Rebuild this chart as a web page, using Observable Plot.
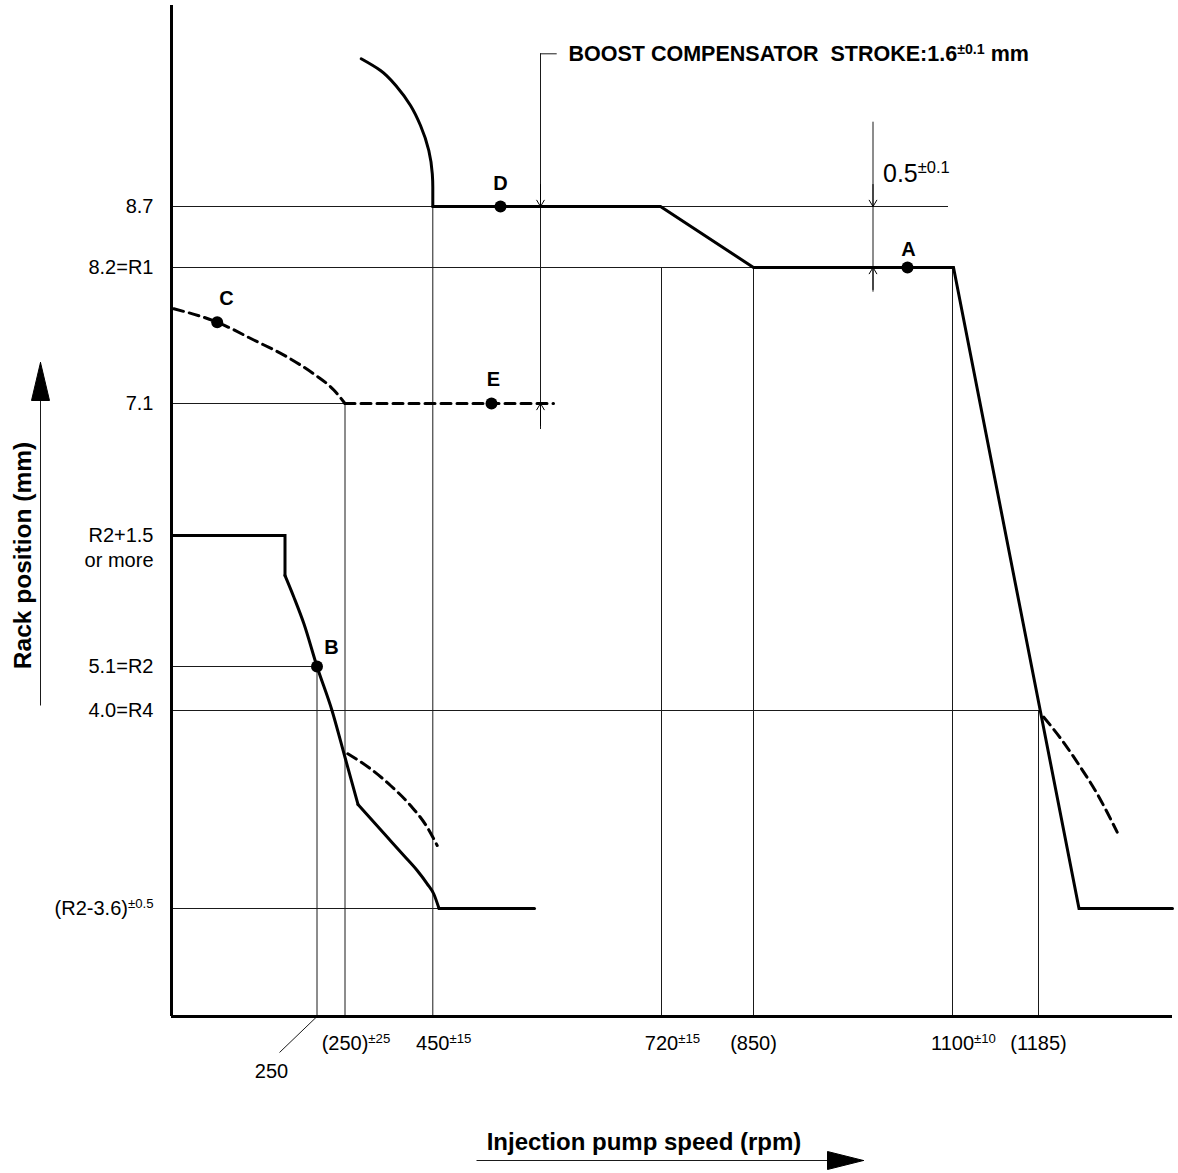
<!DOCTYPE html>
<html>
<head>
<meta charset="utf-8">
<script src="https://cdn.jsdelivr.net/npm/d3@7"></script>
<script src="https://cdn.jsdelivr.net/npm/@observablehq/plot@0.6"></script>
<style>body{margin:0;background:#fff}</style>
</head>
<body>
<div id="chart"></div>
<script>
// ---- Schematic diagram: values are diagram units ----
// Speed axis reference positions and labels ("^" marks a superscript tolerance)
const speedTicks = [
  {x: 173.5, label: "(250)^±25"},
  {x: 261.3, label: "450^±15"},
  {x: 490, label: "720^±15"},
  {x: 582, label: "(850)"},
  {x: 781, label: "1100^±10"},
  {x: 867, label: "(1185)"}
];
const idleSpeed = {x: 145.5, label: "250", lx: 100, ly: -55, ex: 108, ey: -36};

// Rack axis reference positions and labels
const rackTicks = [
  {y: 810, label: "8.7"},
  {y: 749, label: "8.2=R1"},
  {y: 613, label: "7.1"},
  {y: 481, label: "R2+1.5"},
  {y: 350, label: "5.1=R2"},
  {y: 306, label: "4.0=R4"},
  {y: 108, label: "(R2-3.6)^±0.5"}
];
const rackSubLabels = [{y: 456, label: "or more"}];

// Thin reference lines
const hRefs = [
  {y: 810, x2: 777}, {y: 749, x2: 781}, {y: 613, x2: 173.5},
  {y: 350, x2: 145.5}, {y: 306, x2: 867}, {y: 108, x2: 268}
];
const vRefs = [
  {x: 145.5, y2: 350}, {x: 173.5, y2: 613}, {x: 261.3, y2: 810}, {x: 490, y2: 749},
  {x: 582, y2: 749}, {x: 781, y2: 749}, {x: 867, y2: 306}
];

// Characteristic curves
const fullLoadArc   = [[189.7,957.7],[209,946],[225.7,929.3],[239,911],[249,891],[257.3,866],[260.8,842.7],[261.3,829],[261.3,810]];
const fullLoadLine  = [[261.3,810],[489,810],[582,749],[782,749],[907.5,108],[1001,108]];
const idleStep      = [[0,481],[113.5,481],[113.5,441]];
const idleCurve     = [[113.5,441],[122.3,419.5],[132.5,392.5],[145.5,350],[160.5,306],[173,261],[186.5,212]];
const idleTail      = [[186.5,212],[215.7,179.5],[232.3,161],[245.7,146],[255.7,132.7],[262.3,122.5],[267.5,108]];
const idleFlat      = [[267.5,108],[363,108]];
const boostCurve    = [[2.3,707.7],[45.7,694.3],[82.3,676.5],[115.7,659.5],[142.3,642.5],[162.3,626.5],[173.5,613]];
const boostFlat     = [[173.5,613],[382,613]];
const lowDashed     = [[176.3,262.7],[199,247.7],[219,231],[239,211],[255.7,189.3],[265.7,171]];
const highDashed    = [[872.3,299.3],[890.7,276],[909,249.3],[925.7,222.7],[945.7,184.3]];

// Measuring points
const points = [
  {id: "A", x: 736, y: 749, lx: 737, ly: 767},
  {id: "B", x: 145.5, y: 350, lx: 160, ly: 369},
  {id: "C", x: 45.7, y: 694.3, lx: 55, ly: 718},
  {id: "D", x: 329, y: 810, lx: 329, ly: 833},
  {id: "E", x: 320, y: 613, lx: 322, ly: 637}
];

// Dimension annotations
const boostDim = {x: 369, top: 962.7, bottom: 587, upper: 810, lower: 613, tickEnd: 385.7};
const gapDim   = {x: 701.5, top: 894.3, bottom: 724.3, upper: 810, lower: 749};
const boldNotes = [{x: 397, y: 962, text: "BOOST COMPENSATOR\u00a0\u00a0STROKE:1.6^±0.1^\u00a0mm"}];
const plainNotes = [{x: 711.5, y: 843, text: "0.5^±0.1"}];

// Axis titles with their arrows
const xTitle = {x: 472.5, y: -125.5, text: "Injection pump speed (rpm)", ax1: 305, ax2: 692, ay: -144};
const yTitle = {x: -148, y: 461, text: "Rack position (mm)", ax: -131, ay1: 311, ay2: 654};
const axisEnds = {x: 1001, y: 1011};

// ---- helpers ----
function headTriangle(tipX, tipY, dirX, dirY, len, half) {
  const bx = tipX - dirX * len, by = tipY - dirY * len;
  const px = -dirY, py = dirX;
  return [[tipX, tipY], [bx + px * half, by + py * half], [bx - px * half, by - py * half], [tipX, tipY]];
}
const arrowHeads = [
  headTriangle(xTitle.ax2, xTitle.ay, 1, 0, 36, 9),
  headTriangle(yTitle.ax, yTitle.ay2, 0, 1, 38, 9)
];

const thin = {stroke: "#1a1a1a", strokeWidth: 1};
const thick = {stroke: "#000", strokeWidth: 3, strokeLinejoin: "miter", strokeMiterlimit: 10};
const dashed = {stroke: "#000", strokeWidth: 3, strokeDasharray: "10,6"};
const dimArrow = {stroke: "#000", strokeWidth: 1, headLength: 13, headAngle: 62};

const marks = [
  // reference lines
  Plot.ruleY(hRefs, {y: "y", x1: 0, x2: "x2", ...thin}),
  Plot.ruleX(vRefs, {x: "x", y1: 0, y2: "y2", ...thin}),
  Plot.link([idleSpeed], {x1: "x", y1: 0, x2: "ex", y2: "ey", ...thin}),
  // dimension lines
  Plot.ruleX([boostDim], {x: "x", y1: "bottom", y2: "top", ...thin}),
  Plot.ruleY([boostDim], {y: "top", x1: "x", x2: "tickEnd", ...thin}),
  Plot.arrow([boostDim], {x1: "x", x2: "x", y1: d => d.upper + 22, y2: "upper", ...dimArrow}),
  Plot.arrow([boostDim], {x1: "x", x2: "x", y1: d => d.lower - 22, y2: "lower", ...dimArrow}),
  Plot.ruleX([gapDim], {x: "x", y1: "bottom", y2: "top", ...thin}),
  Plot.arrow([gapDim], {x1: "x", x2: "x", y1: d => d.upper + 22, y2: "upper", ...dimArrow}),
  Plot.arrow([gapDim], {x1: "x", x2: "x", y1: d => d.lower - 22, y2: "lower", ...dimArrow}),
  // axes
  Plot.ruleX([0], {x: 0, y1: 0, y2: axisEnds.y, stroke: "#000", strokeWidth: 3}),
  Plot.ruleY([0], {y: 0, x1: 0, x2: axisEnds.x, stroke: "#000", strokeWidth: 3}),
  // curves
  Plot.line(fullLoadArc, {curve: "monotone-y", ...thick}),
  Plot.line(fullLoadLine, {curve: "linear", ...thick}),
  Plot.line(idleStep, {curve: "linear", ...thick}),
  Plot.line(idleCurve, {curve: "monotone-x", ...thick}),
  Plot.line(idleTail, {curve: "monotone-x", ...thick}),
  Plot.line(idleFlat, {curve: "linear", ...thick}),
  Plot.line(boostCurve, {curve: "monotone-x", ...dashed}),
  Plot.line(boostFlat, {curve: "linear", ...dashed}),
  Plot.line(lowDashed, {curve: "monotone-x", ...dashed}),
  Plot.line(highDashed, {curve: "monotone-x", ...dashed}),
  // points
  Plot.dot(points, {x: "x", y: "y", r: 6, fill: "#000", stroke: null}),
  Plot.text(points, {x: "lx", y: "ly", text: "id", fontSize: 20, fontWeight: "bold"}),
  // tick labels
  Plot.text(rackTicks, {x: -18, y: "y", text: "label", textAnchor: "end", fontSize: 20}),
  Plot.text(rackSubLabels, {x: -18, y: "y", text: "label", textAnchor: "end", fontSize: 20}),
  Plot.text(speedTicks, {x: "x", y: -27, text: "label", fontSize: 20}),
  Plot.text([idleSpeed], {x: "lx", y: "ly", text: "label", fontSize: 20}),
  // notes
  Plot.text(boldNotes, {x: "x", y: "y", text: "text", textAnchor: "start", fontSize: 21.5, fontWeight: "bold"}),
  Plot.text(plainNotes, {x: "x", y: "y", text: "text", textAnchor: "start", fontSize: 25}),
  // axis titles
  Plot.text([xTitle], {x: "x", y: "y", text: "text", fontSize: 24, fontWeight: "bold"}),
  Plot.text([yTitle], {x: "x", y: "y", text: "text", fontSize: 24.5, fontWeight: "bold", rotate: -90}),
  Plot.link([xTitle], {x1: "ax1", x2: "ax2", y1: "ay", y2: "ay", ...thin}),
  Plot.link([yTitle], {x1: "ax", x2: "ax", y1: "ay1", y2: "ay2", ...thin}),
  ...arrowHeads.map(t => Plot.line(t, {fill: "#000", stroke: "#000", strokeWidth: 1}))
];

const chart = Plot.plot({
  width: 1178, height: 1173,
  marginLeft: 171, marginRight: 0, marginTop: 0, marginBottom: 157,
  x: {domain: [0, 1007], axis: null},
  y: {domain: [0, 1016], axis: null},
  style: {fontFamily: "'Liberation Sans', Arial, Helvetica, sans-serif", color: "#000", background: "#fff", overflow: "visible"},
  marks
});
document.getElementById("chart").append(chart);

// superscript tolerances: "base^sup^rest"
d3.select(chart).selectAll("text").each(function() {
  const full = this.textContent;
  if (!full.includes("^")) return;
  const parts = full.split("^");
  const cs = getComputedStyle(this);
  const fs = parseFloat(cs.fontSize);
  const anchor = cs.textAnchor;
  this.textContent = "";
  const sel = d3.select(this);
  const b = sel.append("tspan").text(parts[0]);
  sel.append("tspan").attr("font-size", fs * 0.66).attr("dy", -fs * 0.36).text(parts[1]);
  if (parts[2]) sel.append("tspan").attr("dy", fs * 0.36).text(parts[2]);
  if (anchor === "middle") {
    const wb = b.node().getComputedTextLength();
    this.setAttribute("text-anchor", "start");
    b.attr("dx", -wb / 2);
  }
});
</script>
</body>
</html>
